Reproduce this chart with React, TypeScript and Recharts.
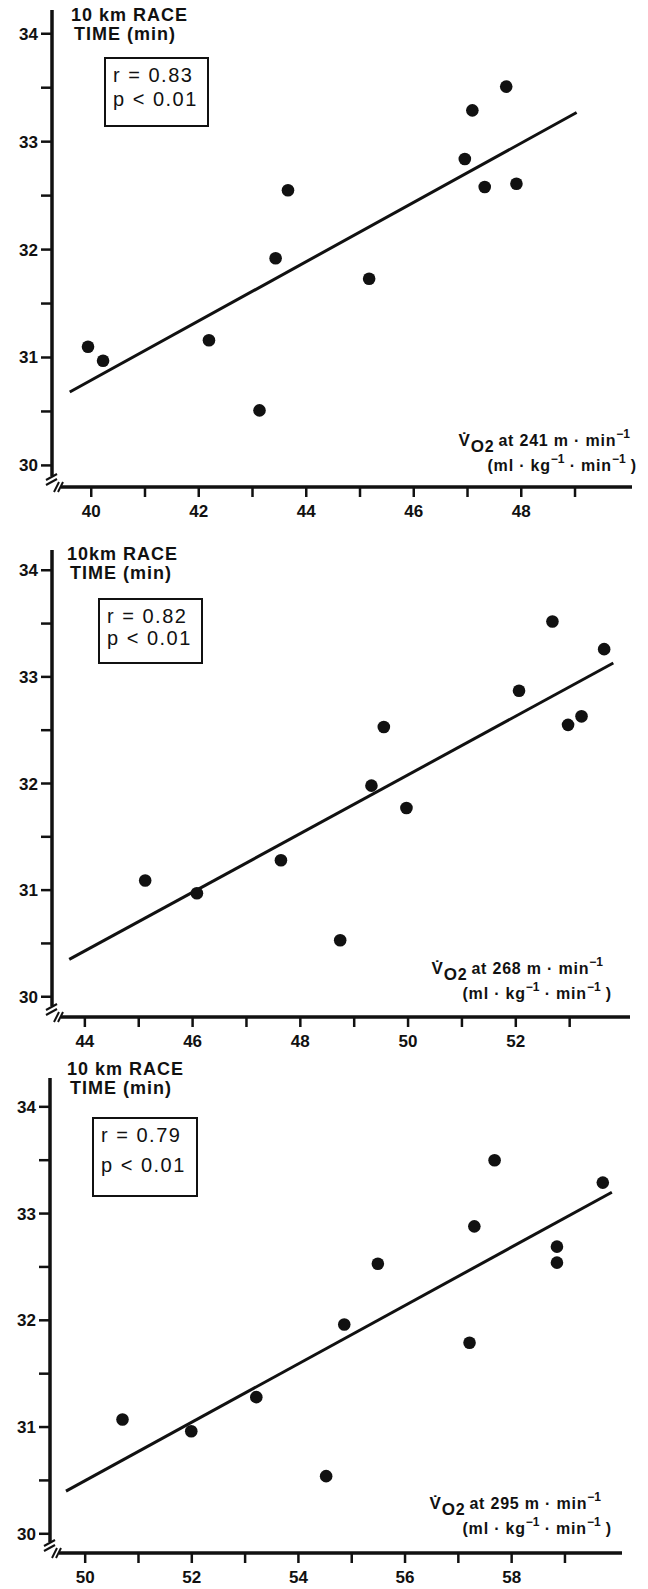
import React from 'react';
import { ScatterChart, Scatter, XAxis, YAxis } from 'recharts';

// VO2 (ml/kg/min) vs 10 km race time (min), one panel per running speed
const vo2At241 = [39.94, 40.22, 42.19, 43.13, 43.43, 43.66, 45.17, 46.95, 47.09, 47.32, 47.72, 47.91];
const time241 = [31.10, 30.97, 31.16, 30.51, 31.92, 32.55, 31.73, 32.84, 33.29, 32.58, 33.51, 32.61];
const fit241X = [39.60, 49.03];
const fit241Y = [30.68, 33.27];

const vo2At268 = [45.12, 46.08, 47.64, 48.74, 49.32, 49.55, 49.97, 52.06, 52.68, 52.97, 53.22, 53.64];
const time268 = [31.09, 30.97, 31.28, 30.53, 31.98, 32.53, 31.77, 32.87, 33.52, 32.55, 32.63, 33.26];
const fit268X = [43.71, 53.81];
const fit268Y = [30.35, 33.13];

const vo2At295 = [50.70, 51.99, 53.21, 54.52, 54.86, 55.49, 57.21, 57.30, 57.68, 58.85, 58.85, 59.71];
const time295 = [31.07, 30.96, 31.28, 30.54, 31.96, 32.53, 31.79, 32.88, 33.50, 32.69, 32.54, 33.29];
const fit295X = [49.64, 59.88];
const fit295Y = [30.40, 33.20];

const yTicks = [30, 30.5, 31, 31.5, 32, 32.5, 33, 33.5, 34];
const xTicks241 = [40, 41, 42, 43, 44, 45, 46, 47, 48, 49];
const xTicks268 = [44, 45, 46, 47, 48, 49, 50, 51, 52, 53];
const xTicks295 = [50, 51, 52, 53, 54, 55, 56, 57, 58, 59];

const FONT = '"Liberation Sans", Arial, Helvetica, sans-serif';
const INK = '#111';

const zip = (xs: number[], ys: number[]) => xs.map((x, i) => ({ x, y: ys[i] }));

const YTick = (props: any) => {
  const { x, y, payload } = props;
  if (!Number.isInteger(payload.value)) return <g />;
  return (
    <text x={x} y={y} dy={6} textAnchor="end" fontFamily={FONT} fontWeight="bold" fontSize={17} fill={INK}>
      {payload.value}
    </text>
  );
};

const XTick = (props: any) => {
  const { x, y, payload } = props;
  if (payload.value % 2 !== 0) return <g />;
  return (
    <text x={x} y={y} dy={18} textAnchor="middle" fontFamily={FONT} fontWeight="bold" fontSize={17} fill={INK}>
      {payload.value}
    </text>
  );
};

const Dot = (props: any) => <circle cx={props.cx} cy={props.cy} r={6.3} fill={INK} />;
const NoDot = () => <g />;

type PanelProps = {
  top: number;
  height: number;
  plotLeft: number;
  plotRight: number;
  xDomain: [number, number];
  yDomain: [number, number];
  xTicks: number[];
  points: { x: number; y: number }[];
  fit: { x: number; y: number }[];
};

const Panel: React.FC<PanelProps> = ({ top, height, plotLeft, plotRight, xDomain, yDomain, xTicks, points, fit }) => (
  <div style={{ position: 'absolute', left: 0, top }}>
    <ScatterChart width={648} height={height} margin={{ top: 10, right: 648 - plotRight, bottom: 0, left: 0 }}>
      <XAxis
        type="number"
        dataKey="x"
        domain={xDomain}
        allowDataOverflow
        ticks={xTicks}
        interval={0}
        height={34}
        tickSize={10}
        tickMargin={2}
        axisLine={{ stroke: INK, strokeWidth: 3.5 }}
        tickLine={{ stroke: INK, strokeWidth: 2.5 }}
        tick={<XTick />}
      />
      <YAxis
        type="number"
        dataKey="y"
        domain={yDomain}
        allowDataOverflow
        ticks={yTicks}
        interval={0}
        width={plotLeft}
        tickSize={11}
        tickMargin={3}
        axisLine={{ stroke: INK, strokeWidth: 3.5 }}
        tickLine={{ stroke: INK, strokeWidth: 2.5 }}
        tick={<YTick />}
      />
      <Scatter data={fit} line={{ stroke: INK, strokeWidth: 3 }} shape={<NoDot />} isAnimationActive={false} />
      <Scatter data={points} shape={<Dot />} isAnimationActive={false} />
    </ScatterChart>
  </div>
);

const txt: React.CSSProperties = {
  position: 'absolute',
  fontFamily: FONT,
  fontWeight: 'bold',
  color: INK,
  whiteSpace: 'nowrap',
};

const Title = ({ left, top, first }: { left: number; top: number; first: string }) => (
  <div style={{ ...txt, left, top, fontSize: 18, lineHeight: '19px', letterSpacing: 1 }}>
    <div>{first}</div>
    <div style={{ paddingLeft: 3 }}>TIME (min)</div>
  </div>
);

const StatBox = ({ left, top, width, height, r, gap }: { left: number; top: number; width: number; height: number; r: string; gap: number }) => (
  <div
    style={{
      ...txt,
      left,
      top,
      width,
      height,
      boxSizing: 'border-box',
      border: `2.5px solid ${INK}`,
      fontSize: 20,
      fontWeight: 'normal',
      letterSpacing: 1.5,
      paddingLeft: 7,
      paddingTop: 5,
      lineHeight: '23px',
    }}
  >
    <div>{r}</div>
    <div style={{ marginTop: gap }}>p &lt; 0.01</div>
  </div>
);

const Sup = ({ children }: { children: React.ReactNode }) => (
  <span style={{ fontSize: 12, position: 'relative', top: -8, letterSpacing: 0 }}>{children}</span>
);

const AxisLabel = ({ right1, right2, top, speed }: { right1: number; right2: number; top: number; speed: number }) => (
  <>
    <div style={{ ...txt, right: 648 - right1, top, fontSize: 16, lineHeight: '20px', letterSpacing: 0.8 }}>
      <span style={{ fontSize: 17 }}>{'V\u0307'}</span>
      <span style={{ position: 'relative', top: 6, fontSize: 17, marginRight: 4 }}>
        O<span style={{ fontSize: 16 }}>2</span>
      </span>
      <span>at {speed} m · min</span>
      <Sup>−1</Sup>
    </div>
    <div style={{ ...txt, right: 648 - right2, top: top + 25, fontSize: 16, lineHeight: '20px', letterSpacing: 0.8 }}>
      <span>(ml · kg</span>
      <Sup>−1</Sup>
      <span> · min</span>
      <Sup>−1</Sup>
      <span> )</span>
    </div>
  </>
);

// axis break marks at the origin corner of each panel
const Break = ({ cx, cy }: { cx: number; cy: number }) => (
  <g stroke={INK} strokeWidth={2} fill="none">
    <rect x={cx - 3} y={cy - 11} width={12} height={14} fill="#fff" stroke="none" />
    <line x1={cx - 6} y1={cy - 7} x2={cx + 5} y2={cy - 13} />
    <line x1={cx - 6} y1={cy - 2} x2={cx + 5} y2={cy - 8} />
    <line x1={cx + 2} y1={cy + 5} x2={cx + 7} y2={cy - 5} />
    <line x1={cx + 6} y1={cy + 5} x2={cx + 11} y2={cy - 5} />
  </g>
);

export default function App() {
  return (
    <div style={{ position: 'absolute', left: 0, top: 0, width: 648, height: 1589, overflow: 'hidden', background: '#fff' }}>
      <Panel
        top={0}
        height={521}
        plotLeft={52}
        plotRight={632}
        xDomain={[39.27, 50.06]}
        yDomain={[29.8, 34.22]}
        xTicks={xTicks241}
        points={zip(vo2At241, time241)}
        fit={zip(fit241X, fit241Y)}
      />
      <Panel
        top={540}
        height={511}
        plotLeft={52}
        plotRight={630}
        xDomain={[43.39, 54.12]}
        yDomain={[29.81, 34.19]}
        xTicks={xTicks268}
        points={zip(vo2At268, time268)}
        fit={zip(fit268X, fit268Y)}
      />
      <Panel
        top={1068}
        height={519}
        plotLeft={50}
        plotRight={622}
        xDomain={[49.34, 60.07]}
        yDomain={[29.82, 34.27]}
        xTicks={xTicks295}
        points={zip(vo2At295, time295)}
        fit={zip(fit295X, fit295Y)}
      />

      <svg width={648} height={1589} style={{ position: 'absolute', left: 0, top: 0, pointerEvents: 'none' }}>
        <Break cx={52} cy={487} />
        <Break cx={52} cy={1017} />
        <Break cx={50} cy={1553} />
      </svg>

      <Title left={71} top={6} first="10 km RACE" />
      <StatBox left={104} top={57} width={105} height={70} r="r = 0.83" gap={1} />
      <AxisLabel right1={630} right2={637} top={431} speed={241} />

      <Title left={67} top={545} first="10km RACE" />
      <StatBox left={98} top={598} width={105} height={66} r="r =  0.82" gap={-1} />
      <AxisLabel right1={603} right2={612} top={959} speed={268} />

      <Title left={67} top={1060} first="10 km RACE" />
      <StatBox left={92} top={1117} width={106} height={80} r="r = 0.79" gap={7} />
      <AxisLabel right1={601} right2={612} top={1494} speed={295} />
    </div>
  );
}
